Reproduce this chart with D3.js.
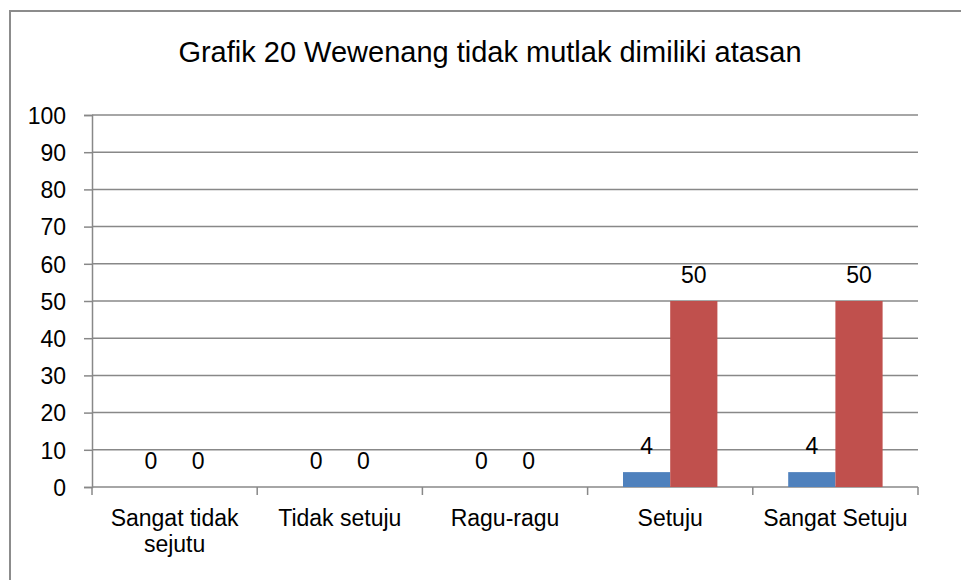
<!DOCTYPE html>
<html>
<head>
<meta charset="utf-8">
<script src="https://d3js.org/d3.v7.min.js"></script>
<style>
  body { margin: 0; background: #fff; }
  text { font-family: "Liberation Sans", Arial, sans-serif; fill: #000; }
</style>
</head>
<body>
<div class="chart"></div>
<script>
// chart data
const title = "Grafik 20 Wewenang tidak mutlak dimiliki atasan";
const categories = ["Sangat tidak sejutu", "Tidak setuju", "Ragu-ragu", "Setuju", "Sangat Setuju"];
const series1 = [0, 0, 0, 4, 4];
const series2 = [0, 0, 0, 50, 50];
const yTicks = [0, 10, 20, 30, 40, 50, 60, 70, 80, 90, 100];
const colors = ["#4f81bd", "#c0504d"];

const width = 961;
const height = 580;
const margin = { top: 115, right: 43, bottom: 93, left: 92 };

let graph = d3
  .select(".chart")
  .append("svg")
  .attr("width", width)
  .attr("height", height);

// outer frame (only top and left edges are in view)
graph
  .append("path")
  .attr("d", `M10,${height} L10,11 L${width},11`)
  .attr("fill", "none")
  .attr("stroke", "#8c8c8c")
  .attr("stroke-width", 2);

// scales
let x = d3
  .scaleBand()
  .domain(categories)
  .range([margin.left, width - margin.right]);

let xInner = d3
  .scaleBand()
  .domain([0, 1])
  .range([0, x.bandwidth()])
  .paddingOuter(0.75);

let y = d3
  .scaleLinear()
  .domain([0, 100])
  .range([height - margin.bottom, margin.top]);

// title
graph
  .append("text")
  .attr("x", 490)
  .attr("y", 62)
  .attr("text-anchor", "middle")
  .style("font-size", "29px")
  .text(title);

// gridlines
graph
  .append("g")
  .selectAll("line")
  .data(yTicks.filter(d => d > 0))
  .enter()
  .append("line")
  .attr("x1", margin.left)
  .attr("x2", width - margin.right)
  .attr("y1", d => y(d))
  .attr("y2", d => y(d))
  .attr("stroke", "#888")
  .attr("stroke-width", 1.5);

// y axis
let yAxis = g =>
  g
    .attr("transform", `translate(${margin.left},0)`)
    .call(d3.axisLeft(y).tickValues(yTicks).tickSize(8).tickPadding(18))
    .call(g => g.selectAll("line, path").attr("stroke", "#888").attr("stroke-width", 1.5))
    .call(g => g.selectAll("text").style("font-size", "23px").attr("fill", "#000").attr("dy", "0.36em"))
    .attr("font-family", null);

graph.append("g").call(yAxis);

// x axis with ticks on category boundaries
let xAxisG = graph.append("g").attr("transform", `translate(0,${y(0)})`);
xAxisG
  .append("line")
  .attr("x1", margin.left)
  .attr("x2", width - margin.right)
  .attr("stroke", "#888")
  .attr("stroke-width", 1.5);
xAxisG
  .selectAll(".tick")
  .data(categories.map(d => x(d)).concat([x(categories[categories.length - 1]) + x.bandwidth()]))
  .enter()
  .append("line")
  .attr("x1", d => d)
  .attr("x2", d => d)
  .attr("y1", 0)
  .attr("y2", 8)
  .attr("stroke", "#888")
  .attr("stroke-width", 1.5);

// category labels, wrapped like the original
let catLabels = {
  "Sangat tidak sejutu": ["Sangat tidak", "sejutu"]
};
categories.forEach(c => {
  let lines = catLabels[c] || [c];
  let t = graph
    .append("text")
    .attr("text-anchor", "middle")
    .style("font-size", "23px")
    .attr("x", x(c) + x.bandwidth() / 2)
    .attr("y", 526);
  lines.forEach((l, i) => {
    t.append("tspan")
      .attr("x", x(c) + x.bandwidth() / 2)
      .attr("dy", i === 0 ? 0 : 26)
      .text(l);
  });
});

// bars
let seriesList = [series1, series2];
seriesList.forEach((s, si) => {
  let group = graph.append("g").attr("class", "series-" + si);
  group
    .selectAll("rect")
    .data(s)
    .enter()
    .append("rect")
    .attr("x", (d, i) => x(categories[i]) + xInner(si))
    .attr("width", xInner.bandwidth())
    .attr("y", d => y(d))
    .attr("height", d => y(0) - y(d))
    .attr("fill", colors[si]);

  // value labels
  group
    .selectAll("text")
    .data(s)
    .enter()
    .append("text")
    .attr("x", (d, i) => x(categories[i]) + xInner(si) + xInner.bandwidth() / 2)
    .attr("y", d => y(d) - 18)
    .attr("text-anchor", "middle")
    .style("font-size", "23px")
    .text(d => d);
});
</script>
</body>
</html>
